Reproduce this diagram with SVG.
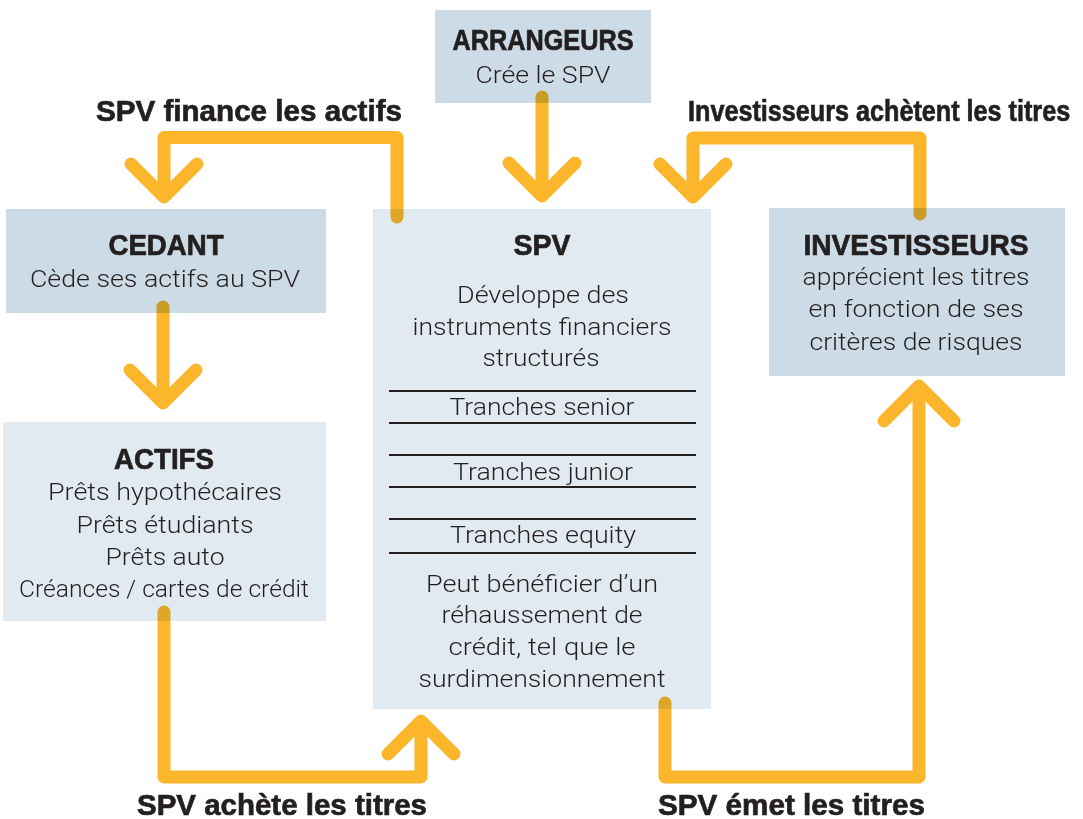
<svg xmlns="http://www.w3.org/2000/svg" width="1083" height="819" viewBox="0 0 1083 819">
  <style>
    .box-dark { fill: #cddbe6; }
    .box-light { fill: #e2eaf1; }
    .title { font-family: "Liberation Sans Narrow", "Liberation Sans", Arial, sans-serif; font-weight: bold; font-size: 29px; fill: #231f20; stroke: #231f20; stroke-width: 0.7; text-anchor: middle; }
    .label { font-family: "Liberation Sans Narrow", "Liberation Sans", Arial, sans-serif; font-weight: bold; font-size: 30px; fill: #231f20; stroke: #231f20; stroke-width: 0.7; }
    .body { font-family: Roboto, "Liberation Sans", Arial, sans-serif; font-weight: 300; font-size: 24px; fill: #231f20; text-anchor: middle; }
    .rule { stroke: #231f20; stroke-width: 2; }
    .flow { fill: none; stroke: #fbb62b; stroke-width: 13; stroke-linecap: round; stroke-linejoin: round; }
    #connectors { mix-blend-mode: multiply; }
  </style>

  <!-- Arrangers -->
  <g id="arrangeurs">
    <rect class="box-dark" x="435" y="10" width="216" height="93"/>
    <text class="title" x="543" y="50" textLength="181" lengthAdjust="spacingAndGlyphs">ARRANGEURS</text>
    <text class="body" x="543" y="83" textLength="135" lengthAdjust="spacingAndGlyphs">Crée le SPV</text>
  </g>

  <!-- Originator -->
  <g id="cedant">
    <rect class="box-dark" x="6" y="209" width="320" height="104"/>
    <text class="title" x="166" y="255" textLength="115" lengthAdjust="spacingAndGlyphs">CEDANT</text>
    <text class="body" x="165" y="287" textLength="270" lengthAdjust="spacingAndGlyphs">Cède ses actifs au SPV</text>
  </g>

  <!-- Underlying assets -->
  <g id="actifs">
    <rect class="box-light" x="3" y="422" width="323" height="199"/>
    <text class="title" x="164" y="469" textLength="100" lengthAdjust="spacingAndGlyphs">ACTIFS</text>
    <text class="body" x="165" y="500" textLength="234" lengthAdjust="spacingAndGlyphs">Prêts hypothécaires</text>
    <text class="body" x="165" y="533" textLength="177" lengthAdjust="spacingAndGlyphs">Prêts étudiants</text>
    <text class="body" x="165" y="565" textLength="119" lengthAdjust="spacingAndGlyphs">Prêts auto</text>
    <text class="body" x="164" y="597" textLength="290" lengthAdjust="spacingAndGlyphs">Créances / cartes de crédit</text>
  </g>

  <!-- Special purpose vehicle -->
  <g id="spv">
    <rect class="box-light" x="373" y="209" width="338" height="500"/>
    <text class="title" x="542" y="255" textLength="57" lengthAdjust="spacingAndGlyphs">SPV</text>
    <text class="body" x="543" y="303" textLength="172" lengthAdjust="spacingAndGlyphs">Développe des</text>
    <text class="body" x="542" y="335" textLength="259" lengthAdjust="spacingAndGlyphs">instruments financiers</text>
    <text class="body" x="541" y="366" textLength="117" lengthAdjust="spacingAndGlyphs">structurés</text>
    <line class="rule" x1="389" y1="391" x2="696" y2="391"/>
    <text class="body" x="542" y="415" textLength="185" lengthAdjust="spacingAndGlyphs">Tranches senior</text>
    <line class="rule" x1="389" y1="423" x2="696" y2="423"/>
    <line class="rule" x1="389" y1="455" x2="696" y2="455"/>
    <text class="body" x="543" y="480" textLength="180" lengthAdjust="spacingAndGlyphs">Tranches junior</text>
    <line class="rule" x1="389" y1="487" x2="696" y2="487"/>
    <line class="rule" x1="389" y1="519" x2="696" y2="519"/>
    <text class="body" x="543" y="543" textLength="186" lengthAdjust="spacingAndGlyphs">Tranches equity</text>
    <line class="rule" x1="389" y1="553" x2="696" y2="553"/>
    <text class="body" x="542" y="592" textLength="232" lengthAdjust="spacingAndGlyphs">Peut bénéficier d’un</text>
    <text class="body" x="542" y="623" textLength="201" lengthAdjust="spacingAndGlyphs">réhaussement de</text>
    <text class="body" x="542" y="655" textLength="187" lengthAdjust="spacingAndGlyphs">crédit, tel que le</text>
    <text class="body" x="542" y="687" textLength="247" lengthAdjust="spacingAndGlyphs">surdimensionnement</text>
  </g>

  <!-- Investors -->
  <g id="investisseurs">
    <rect class="box-dark" x="769" y="208" width="296" height="168"/>
    <text class="title" x="916" y="255" textLength="225" lengthAdjust="spacingAndGlyphs">INVESTISSEURS</text>
    <text class="body" x="916" y="285" textLength="227" lengthAdjust="spacingAndGlyphs">apprécient les titres</text>
    <text class="body" x="916" y="317" textLength="215" lengthAdjust="spacingAndGlyphs">en fonction de ses</text>
    <text class="body" x="916" y="350" textLength="213" lengthAdjust="spacingAndGlyphs">critères de risques</text>
  </g>

  <!-- Flow labels -->
  <g id="labels">
    <text class="label" x="96" y="121" textLength="306" lengthAdjust="spacingAndGlyphs">SPV finance les actifs</text>
    <!-- extra-condensed: narrowed by a horizontal scale -->
    <text class="label" transform="translate(688,121) scale(0.84,1)" x="0" y="0" textLength="455" lengthAdjust="spacingAndGlyphs">Investisseurs achètent les titres</text>
    <text class="label" x="137" y="815" textLength="290" lengthAdjust="spacingAndGlyphs">SPV achète les titres</text>
    <text class="label" x="658" y="815" textLength="267" lengthAdjust="spacingAndGlyphs">SPV émet les titres</text>
  </g>

  <!-- Flows between parties, multiplied over the boxes -->
  <g id="connectors">
    <!-- SPV finances the assets -->
    <path class="flow" d="M397,217 V137.5 H164 V196"/>
    <path class="flow" d="M131,164 L164,197 L197,164"/>
    <!-- Arrangers create the SPV -->
    <path class="flow" d="M542,97 V195"/>
    <path class="flow" d="M509,163 L542,196 L575,163"/>
    <!-- Investors buy the securities -->
    <path class="flow" d="M920,214 V138 H693 V196"/>
    <path class="flow" d="M660,164 L693,197 L726,164"/>
    <!-- Originator transfers assets -->
    <path class="flow" d="M163,307 V402"/>
    <path class="flow" d="M130,370 L163,403 L196,370"/>
    <!-- SPV buys the securities -->
    <path class="flow" d="M164,612 V777 H421 V722"/>
    <path class="flow" d="M388,754 L421,721 L454,754"/>
    <!-- SPV issues the securities -->
    <path class="flow" d="M665,703 V777 H919 V388"/>
    <path class="flow" d="M884,421 L919,386 L954,421"/>
  </g>
</svg>
